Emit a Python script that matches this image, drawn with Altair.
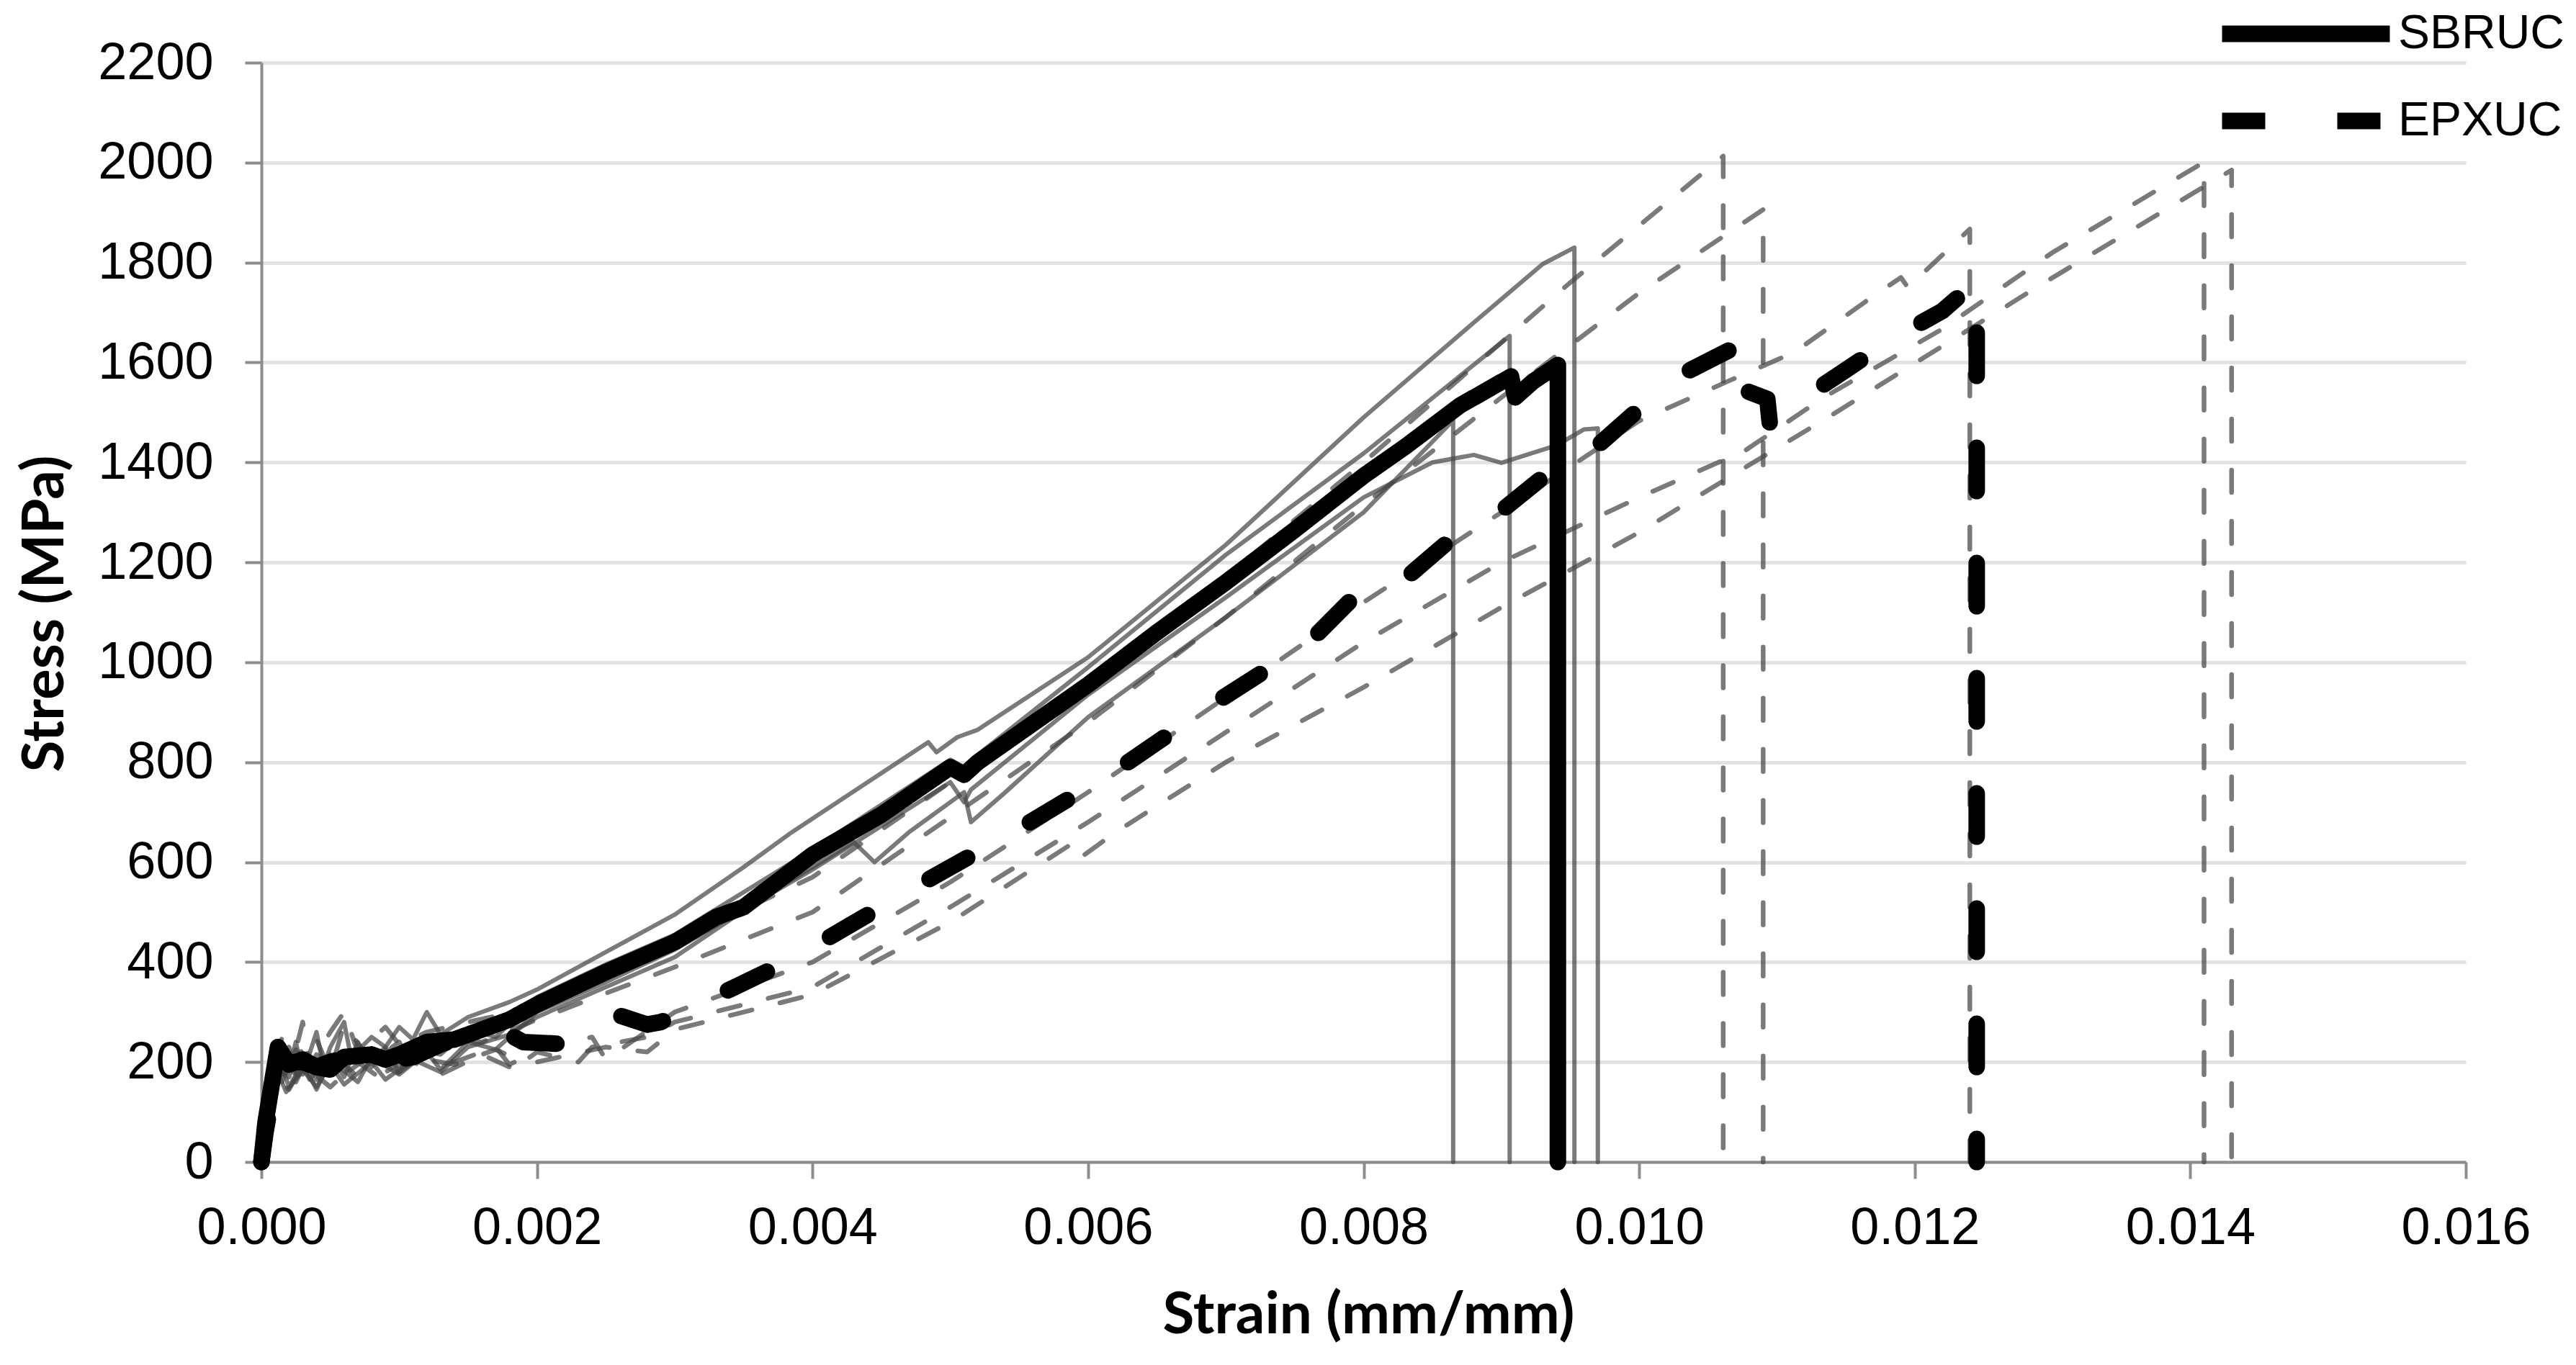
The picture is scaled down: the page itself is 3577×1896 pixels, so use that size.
import altair as alt
import pandas as pd

# ---------------- data ----------------
# Mean curves
SBRUC_STRAIN = [0, 0.00003, 0.00012, 0.0002, 0.0003, 0.0004, 0.0005, 0.0006, 0.0008, 0.0009, 0.001,
                0.0012, 0.0014, 0.0016, 0.0018, 0.002, 0.0025, 0.003, 0.0033, 0.0035, 0.004, 0.0045,
                0.005, 0.0051, 0.0052, 0.006, 0.0065, 0.007, 0.0075, 0.008, 0.0083, 0.0087, 0.00907,
                0.0091, 0.00923, 0.00941, 0.00941]
SBRUC_STRESS = [0, 80, 230, 195, 205, 190, 185, 210, 215, 205, 215,
                240, 245, 265, 285, 315, 380, 440, 490, 510, 615, 695,
                790, 775, 800, 955, 1060, 1160, 1265, 1373, 1431, 1514, 1572,
                1530, 1562, 1595, 0]

EPXUC_STRAIN = [0, 0.00003, 0.0001, 0.00015, 0.0003, 0.0004, 0.0005, 0.0007, 0.0009, 0.0011, 0.0013,
                0.0016, 0.0018, 0.0019, 0.0022, 0.0026, 0.0028, 0.0029, 0.0033, 0.0037, 0.004, 0.00475,
                0.0055, 0.0062, 0.0069, 0.0076, 0.008, 0.0083, 0.0086, 0.009, 0.0093, 0.0097, 0.01,
                0.0103, 0.01065, 0.01067, 0.01075, 0.01093, 0.01095, 0.01113, 0.0115, 0.01183, 0.0122,
                0.01243, 0.01245, 0.01245]
EPXUC_STRESS = [0, 60, 170, 200, 200, 190, 200, 215, 200, 210, 235,
                265, 255, 240, 236, 293, 275, 280, 332, 385, 430, 551,
                667, 783, 915, 1039, 1150, 1167, 1238, 1303, 1370, 1434, 1507,
                1575, 1624, 1525, 1546, 1527, 1473, 1517, 1585, 1646, 1703,
                1758, 1723, 0]

# Individual SBRUC specimens (thin grey solid)
S1_STRAIN = [0, 0.00005, 0.0001, 0.00013, 0.0002, 0.00025, 0.0003, 0.0004, 0.00045, 0.0005, 0.0006,
             0.00065, 0.0008, 0.0009, 0.001, 0.0011, 0.0012, 0.0013, 0.0015, 0.0018, 0.002, 0.0025,
             0.003, 0.0035, 0.00385, 0.0044, 0.00484, 0.0049, 0.00505, 0.0052, 0.006, 0.007, 0.008,
             0.0088, 0.0093, 0.00953, 0.00953]
S1_STRESS = [0, 150, 235, 170, 190, 240, 175, 260, 190, 230, 280,
             210, 250, 230, 270, 245, 300, 255, 290, 320, 345, 420,
             495, 590, 660, 760, 840, 820, 850, 865, 1010, 1235, 1490,
             1680, 1797, 1830, 0]

S2_STRAIN = [0, 0.00004, 0.0001, 0.00015, 0.00025, 0.00035, 0.0005, 0.0006, 0.0007, 0.0008, 0.0009,
             0.001, 0.0011, 0.0013, 0.0015, 0.0017, 0.002, 0.0025, 0.003, 0.004, 0.005, 0.0051,
             0.0052, 0.006, 0.007, 0.008, 0.00906, 0.00906]
S2_STRESS = [0, 120, 200, 160, 225, 165, 215, 170, 240, 190, 225,
             180, 230, 215, 265, 250, 330, 395, 455, 625, 805, 790,
             815, 990, 1215, 1418, 1653, 0]

S3_STRAIN = [0, 0.00006, 0.00012, 0.0002, 0.0003, 0.0004, 0.0005, 0.0007, 0.0008, 0.001, 0.0012,
             0.0013, 0.0015, 0.0017, 0.002, 0.0025, 0.003, 0.004, 0.005, 0.0051, 0.00515, 0.006,
             0.007, 0.008, 0.0085, 0.0088, 0.009, 0.0094, 0.0096, 0.0097, 0.0097]
S3_STRESS = [0, 140, 215, 150, 200, 145, 205, 160, 210, 175, 220,
             185, 240, 225, 300, 360, 425, 585, 760, 720, 745, 935,
             1130, 1330, 1400, 1415, 1399, 1434, 1466, 1468, 0]

S4_STRAIN = [0, 0.00005, 0.0001, 0.00018, 0.0003, 0.0004, 0.0005, 0.0006, 0.0008, 0.0009, 0.0011,
             0.0013, 0.0015, 0.0018, 0.002, 0.0025, 0.003, 0.0037, 0.0043, 0.00445, 0.0047, 0.0051,
             0.00515, 0.0054, 0.006, 0.007, 0.008, 0.00865, 0.00865]
S4_STRESS = [0, 100, 190, 140, 185, 150, 195, 155, 200, 165, 205,
             180, 230, 255, 290, 350, 410, 540, 640, 600, 660, 740,
             680, 740, 890, 1090, 1300, 1484, 0]

# Individual EPXUC specimens (thin grey dashed)
EA_STRAIN = [0, 0.00005, 0.0001, 0.00015, 0.0002, 0.0003, 0.00035, 0.0005, 0.0006, 0.0007, 0.0009,
             0.001, 0.0012, 0.0015, 0.002, 0.003, 0.004, 0.005, 0.006, 0.007, 0.008, 0.009,
             0.0095, 0.01061, 0.01061]
EA_STRESS = [0, 110, 190, 250, 170, 280, 190, 260, 300, 220, 270,
             235, 260, 280, 310, 440, 570, 760, 960, 1170, 1400, 1640,
             1760, 2013, 0]

EB_STRAIN = [0, 0.00004, 0.0001, 0.0002, 0.00025, 0.0004, 0.0005, 0.0006, 0.0008, 0.001, 0.0011,
             0.0013, 0.0016, 0.002, 0.003, 0.004, 0.005, 0.006, 0.007, 0.008, 0.009, 0.01,
             0.0109, 0.0109]
EB_STRESS = [0, 90, 175, 230, 160, 245, 180, 275, 200, 240, 190,
             250, 240, 285, 390, 500, 690, 880, 1090, 1315, 1530, 1739,
             1906, 0]

EC_STRAIN = [0, 0.00006, 0.00012, 0.0002, 0.0003, 0.0004, 0.0005, 0.0007, 0.0009, 0.001, 0.0012,
             0.0014, 0.0017, 0.0018, 0.0021, 0.0024, 0.0025, 0.003, 0.004, 0.005, 0.006, 0.007,
             0.008, 0.009, 0.01, 0.01065, 0.01113, 0.0117, 0.0119, 0.01195, 0.0124, 0.0124]
EC_STRESS = [0, 120, 210, 150, 230, 165, 220, 170, 230, 185, 215,
             200, 230, 195, 235, 250, 205, 300, 400, 560, 740, 930,
             1120, 1300, 1483, 1563, 1621, 1733, 1770, 1750, 1867, 0]

ED_STRAIN = [0, 0.00005, 0.0001, 0.0002, 0.0003, 0.0004, 0.0006, 0.0008, 0.0009, 0.0011, 0.0014,
             0.0017, 0.0019, 0.002, 0.0023, 0.0024, 0.0028, 0.003, 0.004, 0.005, 0.006, 0.007,
             0.008, 0.009, 0.01, 0.01077, 0.01134, 0.0122, 0.013, 0.0141, 0.0141]
ED_STRESS = [0, 100, 180, 200, 160, 215, 175, 215, 180, 210, 195,
             225, 200, 220, 200, 230, 250, 280, 350, 510, 680, 860,
             1040, 1200, 1330, 1424, 1530, 1667, 1820, 2001, 0]

EE_STRAIN = [0, 0.00005, 0.0001, 0.0002, 0.0003, 0.0005, 0.0007, 0.0009, 0.0011, 0.0013, 0.0016,
             0.0018, 0.002, 0.0025, 0.0028, 0.003, 0.004, 0.005, 0.0059, 0.00595, 0.0062, 0.007,
             0.008, 0.009, 0.01, 0.01077, 0.01137, 0.0129, 0.0143, 0.0143]
EE_STRESS = [0, 90, 170, 145, 195, 150, 200, 160, 200, 175, 215,
             190, 200, 230, 220, 265, 335, 480, 640, 610, 660, 800,
             950, 1110, 1260, 1390, 1490, 1753, 1985, 0]

X_TICKS = [0.000, 0.002, 0.004, 0.006, 0.008, 0.010, 0.012, 0.014, 0.016]
Y_TICKS = [0, 200, 400, 600, 800, 1000, 1200, 1400, 1600, 1800, 2000, 2200]
LEGEND_LABELS = ["SBRUC", "EPXUC"]


def frame(name, xs, ys):
    return pd.DataFrame({"series": name, "strain": xs, "stress": ys, "i": range(len(xs))})


solid_df = pd.concat([frame("S1", S1_STRAIN, S1_STRESS), frame("S2", S2_STRAIN, S2_STRESS),
                      frame("S3", S3_STRAIN, S3_STRESS), frame("S4", S4_STRAIN, S4_STRESS)])
dashed_df = pd.concat([frame("EA", EA_STRAIN, EA_STRESS), frame("EB", EB_STRAIN, EB_STRESS),
                       frame("EC", EC_STRAIN, EC_STRESS), frame("ED", ED_STRAIN, ED_STRESS),
                       frame("EE", EE_STRAIN, EE_STRESS)])
sbruc_df = frame(LEGEND_LABELS[0], SBRUC_STRAIN, SBRUC_STRESS)
epxuc_df = frame(LEGEND_LABELS[1], EPXUC_STRAIN, EPXUC_STRESS)

AXIS_GRAY = "#8c8c8c"

x_enc = alt.X("strain:Q",
              scale=alt.Scale(domain=[0, 0.016], nice=False, zero=False),
              axis=alt.Axis(values=X_TICKS, format=".3f", title="Strain (mm/mm)",
                            grid=False, domainColor=AXIS_GRAY, domainWidth=4,
                            tickColor=AXIS_GRAY, tickWidth=4, tickSize=23,
                            labelFont="Liberation Sans", labelFontSize=72, labelColor="black",
                            labelPadding=33, labelFlush=False, labelLimit=0, labelOverlap=False,
                            titleFont="Lato", titleFontSize=80, titleFontWeight="bold",
                            titleColor="black", titleX=1537, titleY=213,
                            titleBaseline="middle", titleAlign="center"))
y_enc = alt.Y("stress:Q",
              scale=alt.Scale(domain=[0, 2200], nice=False),
              axis=alt.Axis(values=Y_TICKS, format="d", title="Stress (MPa)",
                            grid=True, gridColor="#e2e2e2", gridWidth=5,
                            domainColor=AXIS_GRAY, domainWidth=4,
                            tickColor=AXIS_GRAY, tickWidth=4, tickSize=23,
                            labelFont="Liberation Sans", labelFontSize=72, labelColor="black",
                            labelPadding=44, labelLimit=0, labelOverlap=False,
                            titleFont="Lato", titleFontSize=80, titleFontWeight="bold",
                            titleColor="black", titleAngle=-90, titleX=-300, titleY=765,
                            titleBaseline="middle", titleAlign="center"))

solid_layer = alt.Chart(solid_df).mark_line(
    color="#474747", opacity=0.72, strokeWidth=6, strokeCap="round", strokeJoin="round"
).encode(x=x_enc, y=y_enc, detail="series:N", order="i:Q")

dashed_layer = alt.Chart(dashed_df).mark_line(
    color="#474747", opacity=0.72, strokeWidth=6.5, strokeDash=[31, 40],
    strokeCap="round", strokeJoin="round"
).encode(x="strain:Q", y="stress:Q", detail="series:N", order="i:Q")


def legend_for(y_pos):
    return alt.Legend(title=None, orient="none", legendX=2711, legendY=y_pos,
                      symbolType="stroke", symbolSize=54289, symbolStrokeWidth=23,
                      symbolStrokeColor="black", labelFont="Liberation Sans",
                      labelFontSize=66, labelColor="black", labelOffset=0, labelLimit=0)


sbruc_layer = alt.Chart(sbruc_df).mark_line(
    color="black", strokeWidth=23, strokeCap="round", strokeJoin="round"
).encode(
    x="strain:Q", y="stress:Q", order="i:Q",
    strokeDash=alt.StrokeDash("series:N",
                              scale=alt.Scale(domain=[LEGEND_LABELS[0]], range=[[1, 0]]),
                              legend=legend_for(-168)),
)

epxuc_layer = alt.Chart(epxuc_df).mark_line(
    color="black", strokeWidth=23, strokeCap="round", strokeJoin="round"
).encode(
    x="strain:Q", y="stress:Q", order="i:Q",
    strokeDash=alt.StrokeDash("series:N",
                              scale=alt.Scale(domain=[LEGEND_LABELS[1]], range=[[60, 100]]),
                              legend=legend_for(-47)),
)

chart = alt.layer(solid_layer, dashed_layer, sbruc_layer, epxuc_layer).resolve_scale(
    strokeDash="independent"
).resolve_legend(
    strokeDash="independent"
).properties(
    width=3061, height=1527,
    autosize=alt.AutoSizeParams(type="none"),
    padding={"left": 355, "top": 79, "right": 140, "bottom": 268},
    background="white",
).configure_view(stroke=None)

chart.save("out.html", embed_options={"renderer": "svg", "actions": False})
